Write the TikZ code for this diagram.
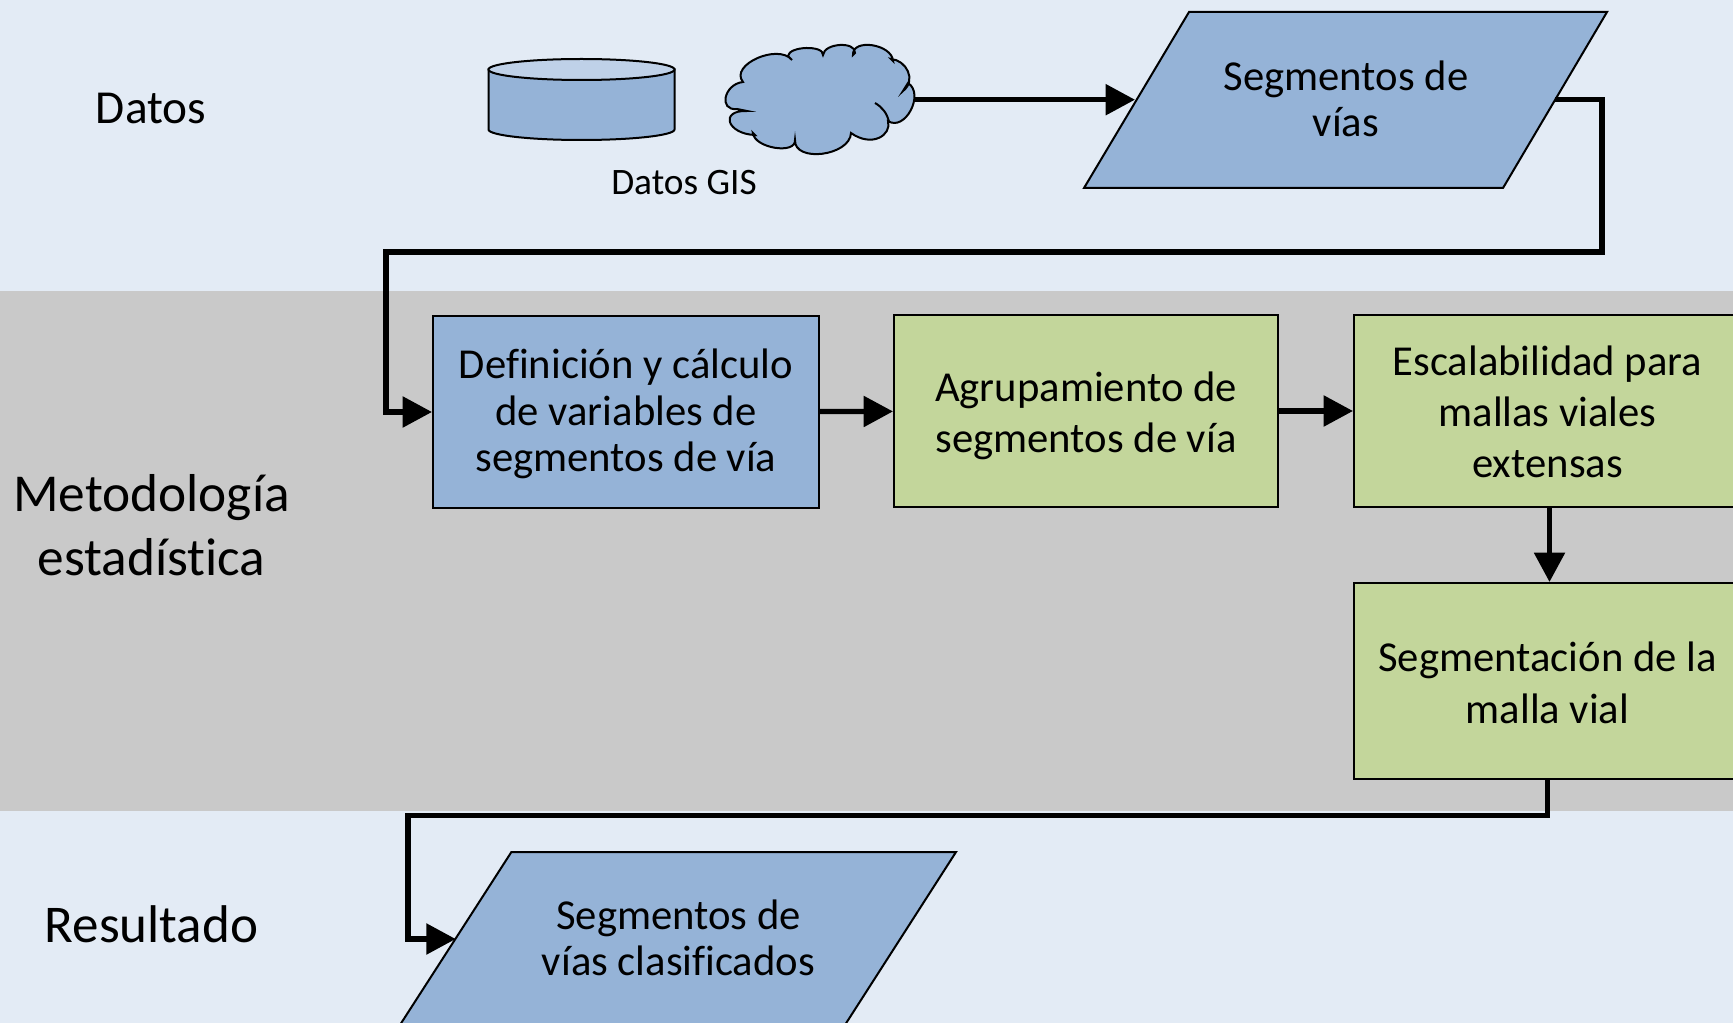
\documentclass[tikz,border=0pt]{standalone}
\usepackage{fontspec}
\setmainfont{Carlito}[Ligatures=CommonOff]
\usepackage{xcolor}
\usetikzlibrary{positioning,arrows.meta}
\definecolor{bandlight}{RGB}{227,235,245}
\definecolor{bandgray}{RGB}{201,201,201}
\definecolor{boxblue}{RGB}{149,179,215}
\definecolor{boxgreen}{RGB}{195,214,155}
\definecolor{dbtop}{RGB}{191,209,232}
\tikzset{
	bluebox/.style={draw=black,line width=1.5pt,fill=boxblue,minimum width=289.5pt,minimum height=143.25pt,align=center,inner sep=0pt,font=\fontsize{32}{34.8}\selectfont},
	greenbox/.style={draw=black,line width=1.5pt,fill=boxgreen,minimum width=288pt,align=center,inner sep=0pt,font=\fontsize{32}{38.25}\selectfont},
	ioshape/.style={draw=black,line width=1.5pt,fill=boxblue,line join=miter},
	iotext/.style={align=center,inner sep=0pt,font=\fontsize{32}{34.8}\selectfont},
	rowlabel/.style={align=center,inner sep=0pt,font=\fontsize{40}{48}\selectfont},
	flow/.style={line width=4pt,-{Triangle[length=22pt,width=22.5pt]}}
}
\begin{document}
\begin{tikzpicture}[x=0.75pt,y=0.75pt,yscale=-1,xscale=1]
	\clip (0,0) rectangle (1733,1023);
	%Shape: bands
	\fill [bandlight] (0,0) rectangle (1733,1023);
	\fill [bandgray] (0,291) rectangle (1733,811);
	
	%Shape: Can
	\draw [ioshape] (488.5,69.5) -- (488.5,129.5) arc [start angle=180,end angle=0,x radius=93,y radius=10.5] -- (674.5,69.5) -- cycle;
	\draw [ioshape,fill=dbtop] (581.5,69.5) ellipse [x radius=93,y radius=10.5];
	%Shape: Cloud
	\draw [ioshape] (743,82) .. controls (729,65) and (778,43) .. (792,60) -- (788,56)
		.. controls (789,46) and (824,45) .. (823,55)
		.. controls (824,43) and (856,41) .. (855,53) -- (853,55)
		.. controls (852,38) and (892,44) .. (893,61) -- (891,59)
		.. controls (906,60) and (917,80) .. (903,91) -- (908,83)
		.. controls (925,94) and (905,132) .. (888,121)
		.. controls (892,135) and (872,148) .. (851,133)
		.. controls (850,156) and (794,163) .. (795,140)
		.. controls (796,155) and (754,148) .. (753,133) -- (755,135)
		.. controls (727,134) and (719,110) .. (747,111) -- (737,109)
		.. controls (718,111) and (724,84) .. (743,82) -- cycle;
	\draw [line width=1.5pt] (875,103) .. controls (882,107) and (887,113) .. (889,122);
	
	%Shape: Data
	\draw [ioshape] (1189,12) -- (1607,12) -- (1503,188) -- (1084,188) -- cycle;
	\draw [ioshape] (511.4,852) -- (956,852) -- (843,1028) -- (398,1028) -- cycle;
	
	% Text Node
	\node (datos lbl) at (151,108) [rowlabel,font=\fontsize{35.5}{48}\selectfont] {Datos};
	\node (metodo lbl) at (151.5,525) [rowlabel] {Metodología\\estadística};
	\node (result lbl) at (151.5,924) [rowlabel,font=\fontsize{39.8}{48}\selectfont] {Resultado};
	\node (gis lbl) at (684,182.5) [iotext,font=\fontsize{28}{32}\selectfont] {Datos GIS};
	\node (vias txt) at (1346,99) [iotext] {Segmentos de\\vías};
	\node (clasif txt) at (678.5,938) [iotext] {Segmentos de\\vías clasificados};
	
	% Boxes
	\node (def box) at (626,412) [bluebox,text height=89.4pt,text depth=0pt] {Definición y cálculo\\de variables de\\segmentos de vía};
	\node (agr box) at (1086,411) [greenbox,minimum height=144pt,text height=62pt,text depth=0pt] {Agrupamiento de\\segmentos de vía};
	\node (esc box) at (1547.5,411) [greenbox,minimum width=290.25pt,minimum height=144pt,text height=100pt,text depth=0pt] {Escalabilidad para\\mallas viales\\extensas};
	\node (seg box) at (1547.5,681) [greenbox,minimum width=290.25pt,minimum height=147pt,text height=64.4pt,text depth=0pt,font=\fontsize{32}{39.3}\selectfont] {Segmentación de la\\malla vial};
	
	% Connector ends
	\coordinate (cloud out) at (914,99.7);
	\coordinate (vias in) at (1135,99.7);
	\coordinate (vias out) at (1555,99.7);
	\coordinate (turn a) at (1602,252);
	\coordinate (turn b) at (386,252);
	\coordinate (turn c) at (408,815.7);
	\coordinate (clasif in) at (455.7,939);
	
	%Straight Lines
	\draw [flow] (cloud out) -- (vias in);
	\draw [flow] (vias out) -| (turn a) -- (turn b) |- (def box.west);
	\draw [flow] (def box) -- (agr box);
	\draw [flow] (agr box) -- (esc box);
	\draw [flow] ([xshift=1.5pt]esc box.south) -- ([xshift=1.5pt]seg box.north);
	\draw [flow] (seg box.south) |- (turn c) |- (clasif in);
\end{tikzpicture}
\end{document}
